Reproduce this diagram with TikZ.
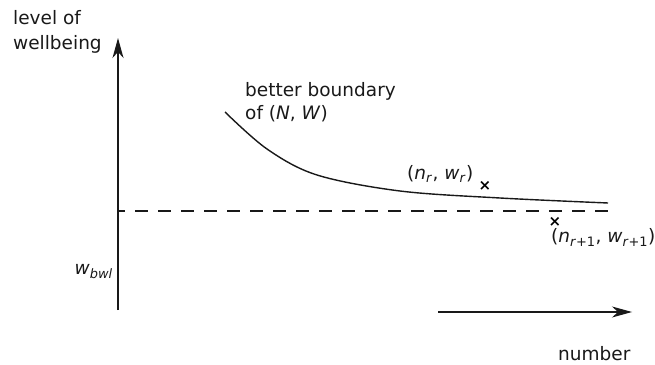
\documentclass[tikz,border=0pt]{standalone}
\usepackage{fontspec}
\setmainfont{DejaVu Sans}
\usetikzlibrary{arrows.meta}
\tikzset{
  lbl/.style={inner sep=0pt, font=\fontsize{18.5}{25}\selectfont, text=black!90},
  axisline/.style={line width=1.5pt, draw=black!90},
  axarrow/.style={-{Stealth[length=20pt,width=11pt,inset=6pt]}},
  crossmark/.style={inner sep=0pt, font=\fontsize{15}{15}\selectfont\bfseries},
  curveline/.style={line width=1.4pt, draw=black!90},
  dashline/.style={line width=1.2pt, draw=black!90, dash pattern=on 13pt off 10pt, dash phase=6pt}
}
\begin{document}
\begin{tikzpicture}[x=1pt,y=1pt]
\useasboundingbox (0,0) rectangle (655,364);
% axes
\coordinate (ybot) at (118,54);
\coordinate (ytop) at (118,326);
\draw[axisline,axarrow] (ybot) -- (ytop);
\coordinate (xl) at (438,52);
\coordinate (xr) at (632,52);
\draw[axisline,line width=1.2pt,axarrow] (xl) -- (xr);
% dashed level
\coordinate (dl) at (118,153);
\coordinate (dr) at (608,153);
\draw[dashline] (dl) -- (dr);
% boundary curve
\draw[curveline] plot[smooth,tension=0.55] coordinates {(225,252) (267,215) (317,189) (400,173) (500,166) (608,161)};
% labels
\node[lbl,anchor=base west] (lev) at (13,339) {level of};
\node[lbl,anchor=base west] (wel) at (13,314) {wellbeing};
\node[lbl,anchor=base west] (bb1) at (245,267) {better boundary};
\node[lbl,anchor=base west] (bb2) at (245,244) {of (\textit{N}, \textit{W})};
\node[lbl,anchor=base west] (nr) at (407,184) {(\textit{n}\textsubscript{\textit{r}}, \textit{w}\textsubscript{\textit{r}})};
\node[crossmark] (x1) at (485,178) {×};
\node[crossmark] (x2) at (555,142) {×};
\node[lbl,anchor=base west] (nr1) at (551,121) {(\textit{n}\textsubscript{\textit{r}+1}, \textit{w}\textsubscript{\textit{r}+1})};
\node[lbl,anchor=base east] (wb) at (113,89) {\textit{w}\textsubscript{\textit{bwl}}};
\node[lbl,anchor=base west] (num) at (558,4) {number};
\end{tikzpicture}
\end{document}
